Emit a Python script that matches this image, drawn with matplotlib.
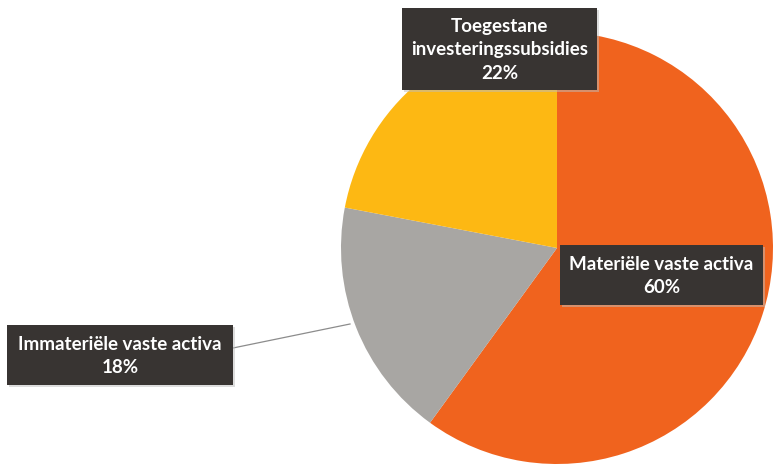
import matplotlib.pyplot as plt
from matplotlib.patches import Rectangle

# Verdeling vaste activa
labels = ["Materiële vaste activa", "Immateriële vaste activa", "Toegestane\ninvesteringssubsidies"]
shares = [60, 18, 22]
colors = ["#F0631E", "#A8A6A3", "#FDB813"]

W, H = 773, 466
fig = plt.figure(figsize=(W / 100, H / 100), dpi=100)
ax = fig.add_axes([0, 0, 1, 1])

cx, cy, r = 557, H - 248, 216
ax.pie(shares, colors=colors, startangle=90, counterclock=False,
       center=(cx, cy), radius=r, frame=True,
       wedgeprops=dict(linewidth=0))
ax.set_xlim(0, W)
ax.set_ylim(0, H)
ax.set_aspect("equal")
ax.axis("off")

# leader line for the small slice
ax.plot([233, 350], [H - 348, H - 324], color="#8C8C8C", lw=0.9, zorder=3)

# label boxes: (left, top, right, bottom) in pixels
boxes = [
    (560, 245, 763, 305),
    (7, 325, 233, 385),
    (402, 8, 597, 90),
]
for lab, pct, (x0, y0, x1, y1) in zip(labels, shares, boxes):
    ax.add_patch(Rectangle((x0 + 2, H - y1 - 2), x1 - x0, y1 - y0,
                           facecolor="#BDBDBD", edgecolor="none", alpha=0.5, zorder=4))
    ax.add_patch(Rectangle((x0, H - y1), x1 - x0, y1 - y0,
                           facecolor="#383432", edgecolor="none", zorder=5))
    ax.text((x0 + x1) / 2, H - (y0 + y1) / 2 - 1, f"{lab}\n{pct}%",
            ha="center", va="center", color="white", fontsize=13.5,
            fontweight="bold", family="Lato", linespacing=1.45, zorder=6)

fig.savefig("out.png", dpi=100)
